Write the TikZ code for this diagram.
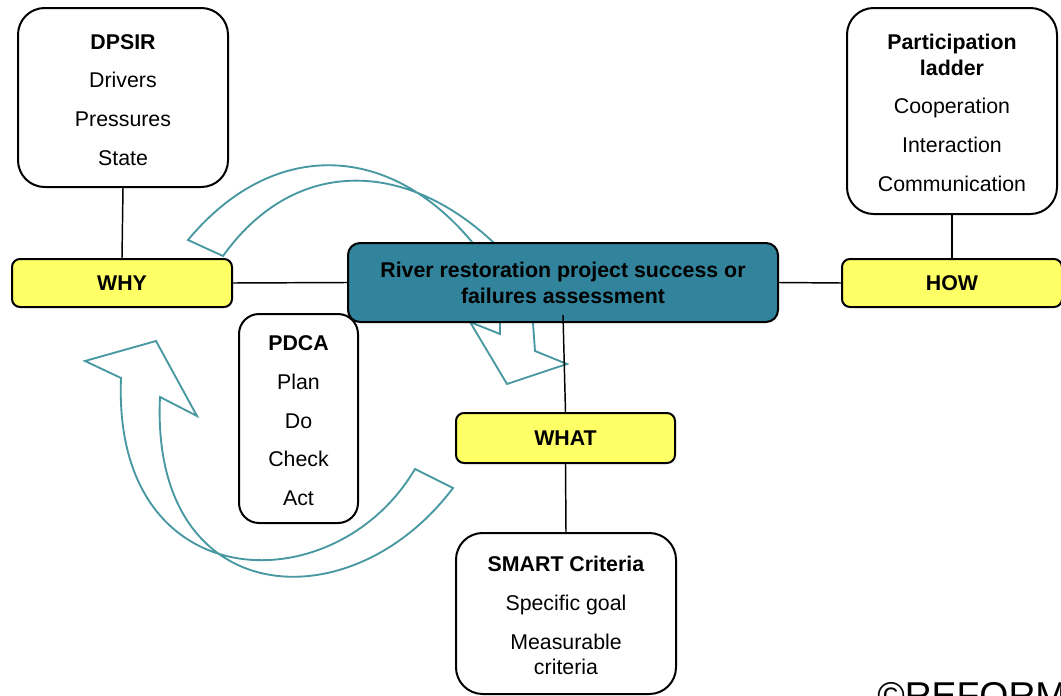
\documentclass[tikz,border=0pt]{standalone}
\usepackage{fontspec}
\setmainfont{Liberation Sans}
\definecolor{teal1}{RGB}{49,132,155}
\definecolor{arr}{RGB}{72,152,162}
\definecolor{yel}{RGB}{255,255,102}
\newcommand\mytopstrut{\rule{0pt}{14.5pt}}
\begin{document}
\begin{tikzpicture}[x=0.75pt,y=-0.75pt,
  txt/.style={font=\fontsize{16pt}{29pt}\selectfont, align=center, inner sep=0pt},
  wbox/.style={txt, draw=black, line width=1.5pt, fill=white, rounded corners=20pt},
  ybox/.style={txt, draw=black, line width=1.5pt, fill=yel, rounded corners=6pt, font=\fontsize{16pt}{19pt}\selectfont\bfseries},
  cbox/.style={txt, draw=black, line width=1.5pt, fill=teal1, rounded corners=9pt, font=\fontsize{16pt}{19.5pt}\selectfont\bfseries},
  conn/.style={draw=black, line width=1.1pt},
  ribbon/.style={draw=arr, line width=1.4pt, line join=miter}
]
\clip (0,0) rectangle (1061,696);
\useasboundingbox (0,0) rectangle (1061,696);

% curved arrows (behind)
\draw[ribbon] (188,240) .. controls (271,140) and (387,140) .. (472,242) -- (500,323) -- (500,334) -- (470,322) -- (507,384) -- (567,364) -- (535,351) -- (533,323) -- (493,242) .. controls (403,158) and (293,158) .. (223,256) -- cycle;
\draw[ribbon] (121,378) .. controls (112,600) and (335,605) .. (415,469) -- (453,488) .. controls (350,625) and (150,610) .. (160,397) -- (197,416) -- (156,341) -- (85,361) -- cycle;

% nodes
\node[wbox, minimum width=157.5pt, minimum height=134.25pt] (dpsir) at (123,97.5) {\mytopstrut\textbf{DPSIR}\\Drivers\\Pressures\\State};
\node[wbox, minimum width=157.5pt, minimum height=154.5pt] (ladder) at (952,111) {\mytopstrut\textbf{Participation}\\[-10pt]\textbf{ladder}\\Cooperation\\Interaction\\Communication};
\node[ybox, minimum width=165pt, minimum height=36pt] (why) at (122,283) {WHY};
\node[ybox, minimum width=165pt, minimum height=36pt] (how) at (952,283) {HOW};
\node[cbox, minimum width=322.5pt, minimum height=59.25pt] (center) at (563,282.5) {River restoration project success or\\failures assessment};
\node[wbox, rounded corners=15pt, minimum width=89.25pt, minimum height=156.75pt] (pdca) at (298.5,418.5) {\mytopstrut\textbf{PDCA}\\Plan\\Do\\Check\\Act};
\node[ybox, minimum width=164.25pt, minimum height=37.5pt] (what) at (565.5,438) {WHAT};
\node[wbox, minimum width=165pt, minimum height=120.75pt] (smart) at (566,613.5) {\mytopstrut\textbf{SMART Criteria}\\Specific goal\\Measurable\\[-10pt]criteria};

% connectors
\draw[conn] (dpsir.south) -- (why.north);
\draw[conn] (ladder.south) -- (how.north);
\draw[conn] (why.east) -- (center.west);
\draw[conn] (center.east) -- (how.west);
\coordinate (cs) at (563,315);
\draw[conn] (cs) -- (what.north);
\draw[conn] (what.south) -- (smart.north);

\node[anchor=north west, inner sep=0pt, font=\fontsize{28pt}{30pt}\selectfont] (reform) at (877,682) {©REFORM};
\end{tikzpicture}
\end{document}
